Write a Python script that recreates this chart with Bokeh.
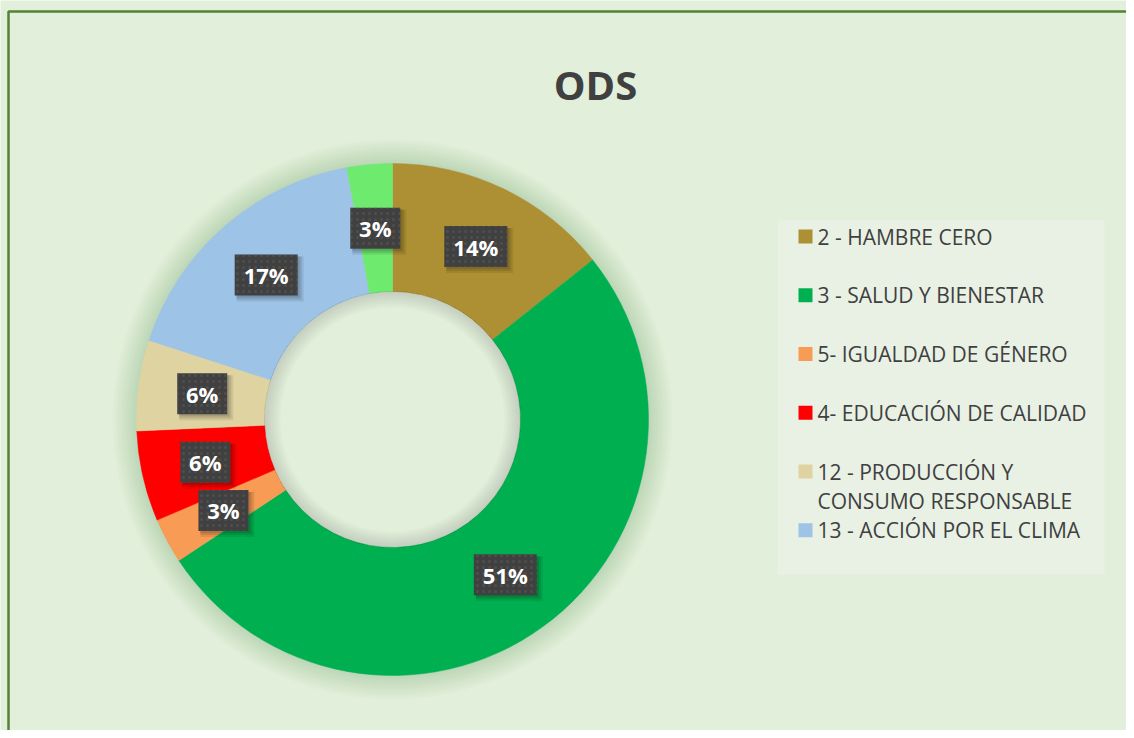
import math
import textwrap
from bokeh.plotting import figure
from bokeh.models import Range1d
from bokeh.core.properties import value
from bokeh.embed import file_html
from bokeh.resources import INLINE

# ---------------- data ----------------
title = "ODS"
categories = [
    "2 - HAMBRE CERO",
    "3 - SALUD Y BIENESTAR",
    "5- IGUALDAD DE GÉNERO",
    "4- EDUCACIÓN DE CALIDAD",
    "12 - PRODUCCIÓN Y CONSUMO RESPONSABLE",
    "13 - ACCIÓN POR EL CLIMA",
    "Otro",
]
counts = [5, 18, 1, 2, 2, 6, 1]
colors = ["#AD9034", "#00B050", "#F79B55", "#FF0000", "#E0D3A2", "#9DC3E6", "#6EEA6E"]
legend_count = 6  # the last category is not shown in the legend

# ---------------- layout ----------------
W, H = 1126, 730
BG = "#E2EFDA"
TXT = "#404040"

def Y(screen_y):
    return H - screen_y

p = figure(width=W, height=H, x_range=Range1d(0, W), y_range=Range1d(0, H),
           output_backend="svg", toolbar_location=None, min_border=0,
           x_axis_type=None, y_axis_type=None)
p.background_fill_color = BG
p.border_fill_color = BG
p.outline_line_color = None
p.grid.visible = False

# chart border (green frame)
p.quad(left=8, right=3000, bottom=-3000, top=Y(11), fill_color=None,
       line_color="#548235", line_width=2.5)

cx, cy = 392, Y(419)
R, r_in = 256, 128

# outer soft shadow
for k in range(12):
    p.annulus(x=cx, y=cy, inner_radius=R - 1, outer_radius=R + 2 * (k + 1),
              fill_color="#55634c", fill_alpha=0.017, line_color=None)

# donut slices
total = float(sum(counts))
cum = 0.0
starts, ends, mids = [], [], []
for c in counts:
    a0 = math.pi / 2 - 2 * math.pi * cum / total
    cum += c
    a1 = math.pi / 2 - 2 * math.pi * cum / total
    starts.append(a0)
    ends.append(a1)
    mids.append((a0 + a1) / 2)

p.annular_wedge(x=cx, y=cy, inner_radius=r_in, outer_radius=R,
                start_angle=starts, end_angle=ends, direction="clock",
                fill_color=colors, line_color=colors, line_width=0.5)

# inner shading of hole
for k in range(8):
    p.annulus(x=cx, y=cy, inner_radius=r_in - 2 * (k + 1), outer_radius=r_in + 0.5,
              fill_color="#55634c", fill_alpha=0.022, line_color=None)

# data labels
r_lab = 0.75 * R
lx = [cx + r_lab * math.cos(m) for m in mids]
ly = [cy + r_lab * math.sin(m) for m in mids]
texts = ["%d%%" % round(100 * c / total) for c in counts]
bw = [24 + 13 * len(t) for t in texts]
bh = 41
for k, a in enumerate([0.10, 0.10, 0.08]):
    off = 2 + k
    p.rect(x=[v + off for v in lx], y=[v - off for v in ly],
           width=[w + 2 * k for w in bw], height=bh + 2 * k,
           fill_color="black", fill_alpha=a, line_color=None)
p.rect(x=lx, y=ly, width=bw, height=bh, fill_color="#404040", line_color=None,
       hatch_pattern="dot", hatch_color="#5c5c5c", hatch_scale=6, hatch_weight=1.5,
       hatch_alpha=0.5)
p.text(x=lx, y=ly, text=texts, text_align="center", text_baseline="middle",
       text_font=value("Open Sans"), text_font_style="bold", text_font_size="22px",
       text_color="white")

# title
p.text(x=[595], y=[Y(84)], text=[title], text_align="center", text_baseline="middle",
       text_font=value("Open Sans"), text_font_style="bold", text_font_size="40px",
       text_color=TXT)

# legend
p.quad(left=777, right=1104, top=Y(220), bottom=Y(574), fill_color="#E9F1E5",
       line_color=None)
first_y, pitch, line_h = 236, 58.75, 29.4
sq_x, sq_y, sq_c = [], [], []
tx, ty, tt = [], [], []
for i in range(legend_count):
    top = first_y + pitch * i
    sq_x.append(805)
    sq_y.append(Y(top))
    sq_c.append(colors[i])
    for j, line in enumerate(textwrap.wrap(categories[i], 24)):
        tx.append(817)
        ty.append(Y(top + j * line_h))
        tt.append(line)
p.rect(x=sq_x, y=sq_y, width=14, height=14, fill_color=sq_c, line_color=None)
p.text(x=tx, y=ty, text=tt, text_align="left", text_baseline="middle",
       text_font=value("Open Sans"), text_font_size="21px", text_color=TXT)

html = file_html(p, INLINE)
html = html.replace("<body>", '<body style="background-color:%s;">' % BG, 1)
open("out.html", "w").write(html)
